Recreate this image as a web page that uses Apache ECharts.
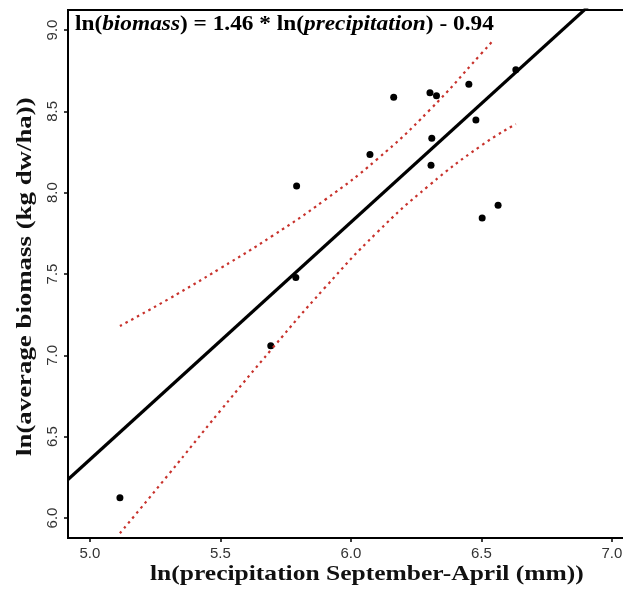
<!DOCTYPE html>
<html>
<head>
<meta charset="utf-8">
<script src="https://cdn.jsdelivr.net/npm/echarts@6/dist/echarts.min.js"></script>
<style>
  html, body { margin: 0; padding: 0; background: #fff; }
  #chart { width: 623px; height: 594px; }
</style>
</head>
<body>
<div id="chart"></div>
<script>
// observed points (ln precipitation, ln biomass)
var obsX = [5.115, 5.693, 5.789, 5.792, 6.073, 6.164, 6.303, 6.328, 6.310, 6.307, 6.452, 6.479, 6.503, 6.564, 6.632];
var obsY = [6.125, 7.059, 7.479, 8.041, 8.235, 8.586, 8.614, 8.596, 8.334, 8.168, 8.667, 8.446, 7.844, 7.922, 8.755];

// fitted line, read at the left edge and past the top
var fitX = [4.916, 7.05];
var fitY = [6.237, 9.35];

// confidence band
var upperX = [5.115, 5.3, 5.5, 5.7, 5.9, 6.1, 6.3, 6.5, 6.539];
var upperY = [7.180, 7.345, 7.535, 7.735, 7.955, 8.205, 8.505, 8.855, 8.925];
var lowerX = [5.115, 5.3, 5.5, 5.7, 5.9, 6.1, 6.3, 6.5, 6.632];
var lowerY = [5.906, 6.265, 6.660, 7.045, 7.415, 7.755, 8.045, 8.290, 8.422];

var xTicks = [5.0, 5.5, 6.0, 6.5, 7.0];
var yTicks = [6.0, 6.5, 7.0, 7.5, 8.0, 8.5, 9.0];

function pairs(xs, ys) {
  var out = [];
  for (var i = 0; i < xs.length; i++) out.push([xs[i], ys[i]]);
  return out;
}

var serif = '"Liberation Serif", "DejaVu Serif", serif';
var sans = '"Liberation Sans", Arial, sans-serif';
var red = '#c8322c';

var chart = echarts.init(document.getElementById('chart'), null, { renderer: 'canvas' });

var option = {
  animation: false,
  backgroundColor: '#fff',
  grid: {
    left: 68, top: 10, right: -4, bottom: 56,
    outerBoundsMode: 'none', containLabel: false,
    show: true, borderColor: '#000', borderWidth: 2
  },
  xAxis: {
    type: 'value', min: 4.916, max: 7.058,
    splitLine: { show: false },
    axisLine: { lineStyle: { color: '#000', width: 2 } },
    axisTick: { show: true, length: 4, customValues: xTicks, lineStyle: { color: '#000', width: 1.5 } },
    axisLabel: {
      customValues: xTicks, margin: 8,
      fontFamily: sans, fontSize: 15, color: '#333',
      formatter: function (v) { return v.toFixed(1); }
    }
  },
  yAxis: {
    type: 'value', min: 5.877, max: 9.123,
    splitLine: { show: false },
    axisLine: { lineStyle: { color: '#000', width: 2 } },
    axisTick: { show: true, length: 4, customValues: yTicks, lineStyle: { color: '#000', width: 1.5 } },
    axisLabel: {
      customValues: yTicks, rotate: 90, margin: 8,
      fontFamily: sans, fontSize: 15, color: '#333',
      formatter: function (v) { return v.toFixed(1); }
    }
  },
  graphic: [
    {
      // regression equation, top left inside the box
      type: 'text', x: 75, y: 13, scaleX: 1.06,
      style: {
        text: '{b|ln(}{i|biomass}{b|) = 1.46 * ln(}{i|precipitation}{b|) - 0.94}',
        rich: {
          b: { fontFamily: serif, fontWeight: 'bold', fontSize: 22, fill: '#000' },
          i: { fontFamily: serif, fontWeight: 'bold', fontStyle: 'italic', fontSize: 22, fill: '#000' }
        }
      }
    },
    {
      type: 'text', x: 150, y: 563, scaleX: 1.16,
      style: { text: 'ln(precipitation September-April (mm))', font: 'bold 22px ' + serif, fill: '#111' }
    },
    {
      type: 'text', x: 14, y: 456, rotation: Math.PI / 2, scaleX: 1.22,
      style: { text: 'ln(average biomass (kg dw/ha))', font: 'bold 22px ' + serif, fill: '#111' }
    }
  ],
  series: [
    {
      type: 'line', data: pairs(upperX, upperY), symbol: 'none', smooth: true,
      lineStyle: { color: red, width: 2.2, type: [2.5, 4] }
    },
    {
      type: 'line', data: pairs(lowerX, lowerY), symbol: 'none', smooth: true,
      lineStyle: { color: red, width: 2.2, type: [2.5, 4] }
    },
    {
      type: 'line', data: pairs(fitX, fitY), symbol: 'none', clip: true,
      lineStyle: { color: '#000', width: 3.2 }
    },
    {
      type: 'scatter', data: pairs(obsX, obsY), symbolSize: 7,
      itemStyle: { color: '#000', opacity: 1 }
    }
  ]
};

chart.setOption(option);
</script>
</body>
</html>
